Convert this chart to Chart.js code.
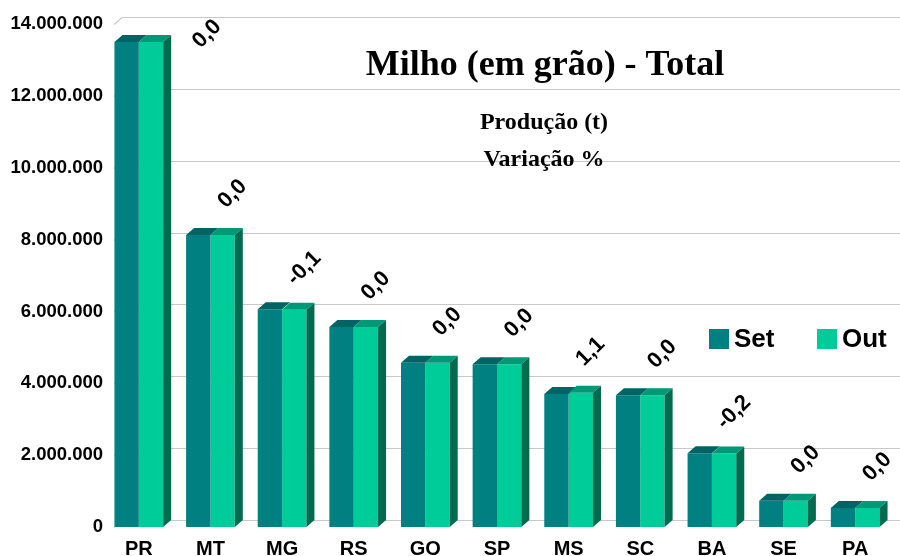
<!DOCTYPE html>
<html>
<head>
<meta charset="utf-8">
<script src="https://cdn.jsdelivr.net/npm/chart.js@4"></script>
<style>
  html, body { margin: 0; padding: 0; background: #fff; }
  #wrap { width: 900px; height: 556px; position: relative; }
</style>
</head>
<body>
<div id="wrap"><canvas id="chart"></canvas></div>
<script>
// Milho (em grão) - Total : produção (t) por UF, Set x Out
const estados = ['PR', 'MT', 'MG', 'RS', 'GO', 'SP', 'MS', 'SC', 'BA', 'SE', 'PA'];
const producaoSet = [13500000, 8130000, 6060000, 5570000, 4570000, 4530000, 3700000, 3670000, 2050000, 730000, 530000];
const producaoOut = [13500000, 8130000, 6050000, 5570000, 4570000, 4530000, 3740000, 3670000, 2046000, 730000, 530000];
const variacao = ['0,0', '0,0', '-0,1', '0,0', '0,0', '0,0', '1,1', '0,0', '-0,2', '0,0', '0,0'];
const yTicks = [0, 2000000, 4000000, 6000000, 8000000, 10000000, 12000000, 14000000];

const corSet = '#008080', corOut = '#00CC99';
const topoSet = '#006464', topoOut = '#009977', ladoOut = '#006B4F';
const DX = 8, DY = 7; // profundidade 3D

function fmt(v) {
  return String(Math.round(v)).replace(/\B(?=(\d{3})+(?!\d))/g, '.');
}

// grade na parede do fundo
const backWall = {
  id: 'backWall',
  beforeDatasetsDraw(chart) {
    const { ctx, chartArea, scales: { y } } = chart;
    const x0 = chartArea.left + 11;
    ctx.save();
    ctx.strokeStyle = '#c8c8c8';
    ctx.lineWidth = 1.2;
    yTicks.forEach(t => {
      const yy = Math.round(y.getPixelForValue(t)) + 0.5;
      ctx.beginPath();
      ctx.moveTo(x0, yy);
      ctx.lineTo(x0 + DX, yy - DY);
      ctx.lineTo(chart.width, yy - DY);
      ctx.stroke();
    });
    ctx.restore();
  }
};

// faces de topo e lateral das colunas
const bars3d = {
  id: 'bars3d',
  afterDatasetsDraw(chart) {
    const { ctx } = chart;
    const mSet = chart.getDatasetMeta(0).data;
    const mOut = chart.getDatasetMeta(1).data;
    ctx.save();
    mSet.forEach((b, i) => {
      const s = b.getProps(['x', 'y', 'base', 'width'], true);
      const o = mOut[i].getProps(['x', 'y', 'base', 'width'], true);
      const sl = s.x - s.width / 2, sr = s.x + s.width / 2;
      const ol = o.x - o.width / 2, or = o.x + o.width / 2;
      // topo Set
      ctx.fillStyle = topoSet;
      ctx.beginPath();
      ctx.moveTo(sl, s.y); ctx.lineTo(sl + DX, s.y - DY);
      ctx.lineTo(sr + DX, s.y - DY); ctx.lineTo(sr, s.y); ctx.closePath(); ctx.fill();
      // topo Out
      ctx.fillStyle = topoOut;
      ctx.beginPath();
      ctx.moveTo(ol, o.y); ctx.lineTo(ol + DX, o.y - DY);
      ctx.lineTo(or + DX, o.y - DY); ctx.lineTo(or, o.y); ctx.closePath(); ctx.fill();
      // lateral Out
      ctx.fillStyle = ladoOut;
      ctx.beginPath();
      ctx.moveTo(or, o.y); ctx.lineTo(or + DX, o.y - DY);
      ctx.lineTo(or + DX, o.base - DY); ctx.lineTo(or, o.base); ctx.closePath(); ctx.fill();
    });
    ctx.restore();
  }
};

// variação % girada sobre as colunas, títulos e legenda
const textos = {
  id: 'textos',
  afterDraw(chart) {
    const { ctx, scales: { x, y } } = chart;
    ctx.save();
    ctx.fillStyle = '#000';
    ctx.font = 'bold 22px "Liberation Sans", Arial, sans-serif';
    ctx.textAlign = 'center';
    ctx.textBaseline = 'middle';
    estados.forEach((uf, i) => {
      const cx = x.getPixelForValue(i);
      const top = y.getPixelForValue(Math.max(producaoSet[i], producaoOut[i]));
      let lx = cx + 22, ly = top - 41;
      if (ly < 34) { lx += (34 - ly) * 1.4; ly = 34; }
      ctx.save();
      ctx.translate(lx, ly);
      ctx.rotate(-Math.PI / 4);
      ctx.fillText(variacao[i], 0, 0);
      ctx.restore();
    });

    ctx.font = 'bold 36px "Liberation Serif", "Times New Roman", serif';
    ctx.fillText('Milho (em grão) - Total', 545, 66);
    ctx.font = 'bold 24px "Liberation Serif", "Times New Roman", serif';
    ctx.fillText('Produção (t)', 544, 123);
    ctx.fillText('Variação %', 544, 160);

    // legenda
    ctx.font = 'bold 26px "Liberation Sans", Arial, sans-serif';
    ctx.textAlign = 'left';
    chart.data.datasets.forEach((ds, k) => {
      const bx = k === 0 ? 709 : 817;
      ctx.fillStyle = ds.backgroundColor;
      ctx.fillRect(bx, 329, 20, 20);
      ctx.fillStyle = '#000';
      ctx.fillText(ds.label, bx + 25, 340);
    });
    ctx.restore();
  }
};

new Chart(document.getElementById('chart'), {
  type: 'bar',
  data: {
    labels: estados,
    datasets: [
      { label: 'Set', data: producaoSet, backgroundColor: corSet, categoryPercentage: 0.68, barPercentage: 1.0 },
      { label: 'Out', data: producaoOut, backgroundColor: corOut, categoryPercentage: 0.68, barPercentage: 1.0 }
    ]
  },
  options: {
    responsive: true,
    maintainAspectRatio: false,
    animation: false,
    layout: { padding: { top: 24, right: 9, left: 0, bottom: 0 } },
    plugins: { legend: { display: false }, title: { display: false }, tooltip: { enabled: false } },
    scales: {
      x: {
        grid: { display: false, drawTicks: false },
        border: { display: false },
        ticks: { color: '#000', font: { family: '"Liberation Sans", Arial, sans-serif', size: 20, weight: 'bold' }, padding: 10, maxRotation: 0 },
        afterFit(s) { s.height = 29; }
      },
      y: {
        min: 0, max: 14000000,
        afterBuildTicks(s) { s.ticks = yTicks.map(v => ({ value: v })); },
        grid: { display: false, drawTicks: false },
        border: { display: false },
        ticks: {
          color: '#000', padding: 0,
          font: { family: '"Liberation Sans", Arial, sans-serif', size: 18.5, weight: 'bold' },
          callback: v => fmt(v)
        },
        afterFit(s) { s.width = 103; }
      }
    }
  },
  plugins: [backWall, bars3d, textos]
});
</script>
</body>
</html>
